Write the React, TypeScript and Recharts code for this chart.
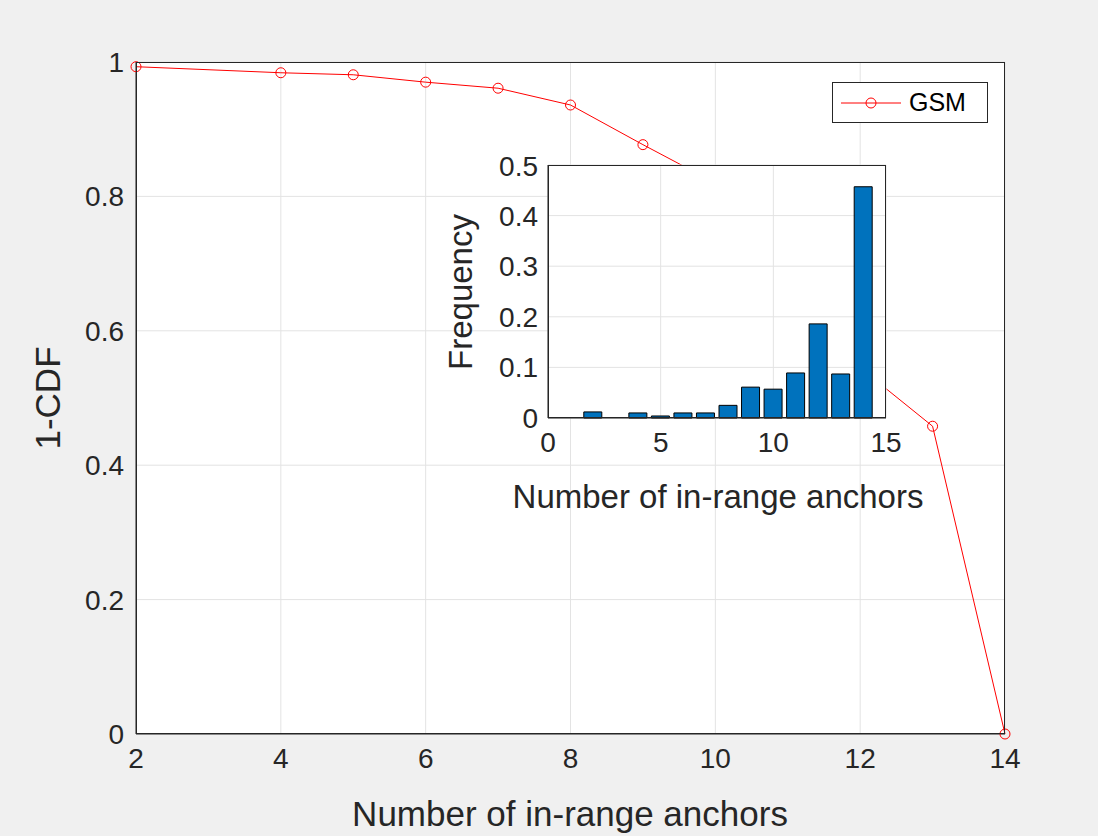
import { LineChart, Line, BarChart, Bar, XAxis, YAxis, CartesianGrid } from 'recharts'

const anchors = [2, 4, 5, 6, 7, 8, 9, 10, 11, 12, 13, 14]
const survival = [0.993, 0.984, 0.981, 0.970, 0.961, 0.936, 0.877, 0.820, 0.731, 0.545, 0.458, 0]

const binCenters = [2, 4, 5, 6, 7, 8, 9, 10, 11, 12, 13, 14]
const frequency = [0.012, 0.010, 0.004, 0.010, 0.010, 0.025, 0.061, 0.057, 0.089, 0.186, 0.087, 0.457]

const mainXTicks = [2, 4, 6, 8, 10, 12, 14]
const mainYTicks = [0, 0.2, 0.4, 0.6, 0.8, 1]
const insetXTicks = [0, 5, 10, 15]
const insetYTicks = [0, 0.1, 0.2, 0.3, 0.4, 0.5]

const mainData = anchors.map((a, i) => ({ a, v: survival[i] }))
const histData = binCenters.map((b, i) => ({ b, f: frequency[i] }))

const txt = '#262626'
const font = '"Liberation Sans", Arial, sans-serif'
const fmt = (v: number) => String(v)

const title = (s: string, x: number, y: number, size: number, rot = false) => (
  <div style={{
    position: 'absolute', left: x, top: y, fontSize: size, color: txt, whiteSpace: 'nowrap',
    transform: rot ? 'translate(-50%, -50%) rotate(-90deg)' : 'translate(-50%, -50%)', pointerEvents: 'none',
  }}>{s}</div>
)

export default function App() {
  return (
    <div style={{ position: 'fixed', left: 0, top: 0, width: 1098, height: 836, background: '#f0f0f0', fontFamily: font }}>
      <div style={{ position: 'absolute', left: 0, top: 0 }}>
        <LineChart width={1098} height={836} data={mainData} margin={{ top: 62, right: 93, bottom: 0, left: 56 }}>
          <CartesianGrid stroke="#e3e3e3" fill="#ffffff" fillOpacity={1} />
          <XAxis dataKey="a" type="number" domain={[2, 14]} ticks={mainXTicks} height={102} tickFormatter={fmt}
            tick={{ fill: txt, fontSize: 28 }} stroke={txt} tickSize={0} tickMargin={14} />
          <YAxis type="number" domain={[0, 1]} ticks={mainYTicks} width={80} tickFormatter={fmt}
            tick={{ fill: txt, fontSize: 28 }} stroke={txt} tickSize={0} tickMargin={12} />
          <Line dataKey="v" stroke="#ff0000" strokeWidth={1} isAnimationActive={false}
            dot={{ r: 5, stroke: '#ff0000', fill: 'none', strokeWidth: 1 }} />
        </LineChart>
      </div>
      <div style={{ position: 'absolute', left: 136, top: 62, width: 869, height: 672, border: '1px solid #262626', boxSizing: 'border-box', pointerEvents: 'none' }} />
      {title('Number of in-range anchors', 570, 814, 35)}
      {title('1-CDF', 48, 398, 35, true)}

      <div style={{ position: 'absolute', left: 440, top: 150 }}>
        <BarChart width={466} height={370} data={histData} margin={{ top: 15, right: 20, bottom: 0, left: 0 }} barCategoryGap={0}>
          <CartesianGrid stroke="#e3e3e3" fill="#ffffff" fillOpacity={1} />
          <XAxis dataKey="b" type="number" domain={[0, 15]} ticks={insetXTicks} height={102} tickFormatter={fmt}
            tick={{ fill: txt, fontSize: 28 }} stroke={txt} tickSize={0} tickMargin={14} />
          <YAxis type="number" domain={[0, 0.5]} ticks={insetYTicks} width={108} tickFormatter={fmt}
            tick={{ fill: txt, fontSize: 28 }} stroke={txt} tickSize={0} tickMargin={10} />
          <Bar dataKey="f" fill="#0072bd" stroke="#000000" strokeWidth={1} barSize={18} isAnimationActive={false} />
        </BarChart>
      </div>
      <div style={{ position: 'absolute', left: 548, top: 165, width: 338, height: 253, border: '1px solid #262626', boxSizing: 'border-box', pointerEvents: 'none' }} />
      {title('Number of in-range anchors', 718, 497, 33)}
      {title('Frequency', 461, 292, 33, true)}

      <div style={{ position: 'absolute', left: 832, top: 82, width: 156, height: 41, background: '#fff', border: '1px solid #262626', boxSizing: 'border-box', display: 'flex', alignItems: 'center' }}>
        <svg width={64} height={20} style={{ marginLeft: 6 }}>
          <line x1={2} y1={10} x2={62} y2={10} stroke="#ff0000" strokeWidth={1} />
          <circle cx={32} cy={10} r={5} stroke="#ff0000" fill="none" strokeWidth={1} />
        </svg>
        <span style={{ fontSize: 25, color: '#000', marginLeft: 6 }}>GSM</span>
      </div>
    </div>
  )
}
